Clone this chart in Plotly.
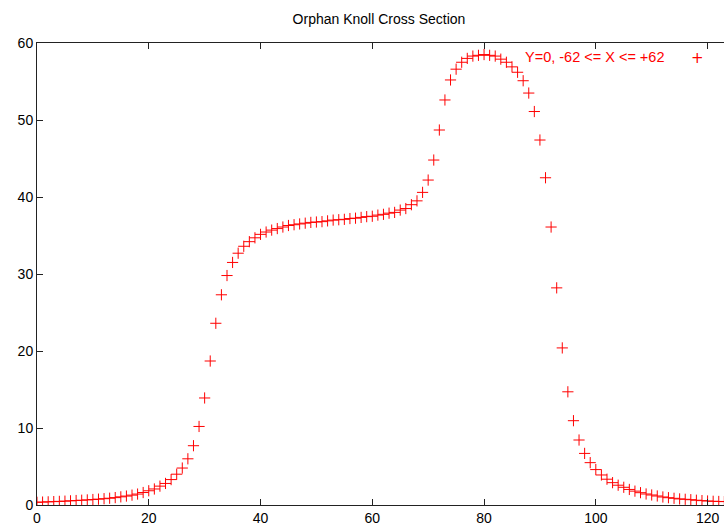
import plotly.graph_objects as go

# Depth profile sampled along Y=0 (index 0..124 corresponds to X=-62..+62)
x_index = list(range(125))
depth = [
    0.35, 0.38, 0.41, 0.44, 0.47, 0.50, 0.54, 0.58, 0.62, 0.66,
    0.71, 0.76, 0.82, 0.88, 0.96, 1.06, 1.16, 1.28, 1.42, 1.62,
    1.85, 2.08, 2.45, 2.8, 3.3, 4.0, 4.8, 6.0, 7.7, 10.2,
    13.9, 18.7, 23.6, 27.3, 29.8, 31.5, 32.7, 33.6, 34.2, 34.7,
    35.15, 35.45, 35.7, 35.9, 36.1, 36.3, 36.4, 36.5, 36.6, 36.7,
    36.75, 36.8, 36.9, 37.0, 37.05, 37.1, 37.2, 37.25, 37.35, 37.45,
    37.5, 37.65, 37.75, 37.9, 38.0, 38.3, 38.5, 39.0, 39.5, 40.6,
    42.2, 44.8, 48.7, 52.6, 55.2, 56.6, 57.5, 58.0, 58.3, 58.4,
    58.5, 58.4, 58.3, 57.9, 57.5, 56.9, 56.2, 55.1, 53.5, 51.1,
    47.4, 42.5, 36.1, 28.2, 20.4, 14.7, 10.95, 8.44, 6.7, 5.5,
    4.6, 3.9, 3.35, 2.9, 2.57, 2.3, 2.02, 1.8, 1.6, 1.43,
    1.3, 1.17, 1.04, 0.95, 0.87, 0.79, 0.74, 0.69, 0.62, 0.57,
    0.52, 0.48, 0.46, 0.44, 0.42,
]

x_ticks = [0, 20, 40, 60, 80, 100, 120]
y_ticks = [0, 10, 20, 30, 40, 50, 60]

series_label = "Y=0, -62 &lt;= X &lt;= +62"
chart_title = "Orphan Knoll Cross Section"

FONT = "Liberation Sans, Arial, Helvetica, sans-serif"
RED = "#ff0000"

fig = go.Figure()
fig.add_trace(go.Scatter(
    x=x_index,
    y=depth,
    mode="markers",
    name=series_label,
    marker=dict(symbol="cross-thin", size=8, color=RED,
                line=dict(color=RED, width=1)),
    showlegend=False,
))

# Key in the top-right corner: label text followed by the point sample
fig.add_annotation(
    text=series_label, xref="paper", yref="paper",
    x=(666 - 37) / 687, y=1 - 14 / 462,
    xanchor="right", yanchor="middle", showarrow=False,
    font=dict(family=FONT, size=14.5, color=RED),
)
fig.add_annotation(
    text="+", xref="paper", yref="paper",
    x=(697 - 37) / 687, y=1 - 15 / 462,
    xanchor="center", yanchor="middle", showarrow=False,
    font=dict(family="DejaVu Sans, sans-serif", size=15, color=RED),
)

fig.update_layout(
    width=724,
    height=527,
    margin=dict(l=37, r=0, t=43, b=22),
    paper_bgcolor="white",
    plot_bgcolor="white",
    font=dict(family=FONT, size=14, color="black"),
    title=dict(text=chart_title, x=379 / 724, xanchor="center",
               y=1 - 19 / 527, yanchor="middle",
               font=dict(family=FONT, size=14, color="black")),
    showlegend=False,
    xaxis=dict(
        range=[0, 122.94],
        tickvals=x_ticks,
        ticks="inside",
        ticklen=6,
        tickcolor="#222",
        showline=True,
        linecolor="#222",
        linewidth=1,
        mirror="ticks",
        showgrid=False,
        zeroline=False,
        tickfont=dict(family=FONT, size=14, color="black"),
    ),
    yaxis=dict(
        range=[0, 60],
        tickvals=y_ticks,
        ticks="inside",
        ticklen=6,
        tickcolor="#222",
        showline=True,
        linecolor="#222",
        linewidth=1,
        mirror=False,
        showgrid=False,
        zeroline=False,
        tickfont=dict(family=FONT, size=14, color="black"),
    ),
)

fig.write_html("out.html")
